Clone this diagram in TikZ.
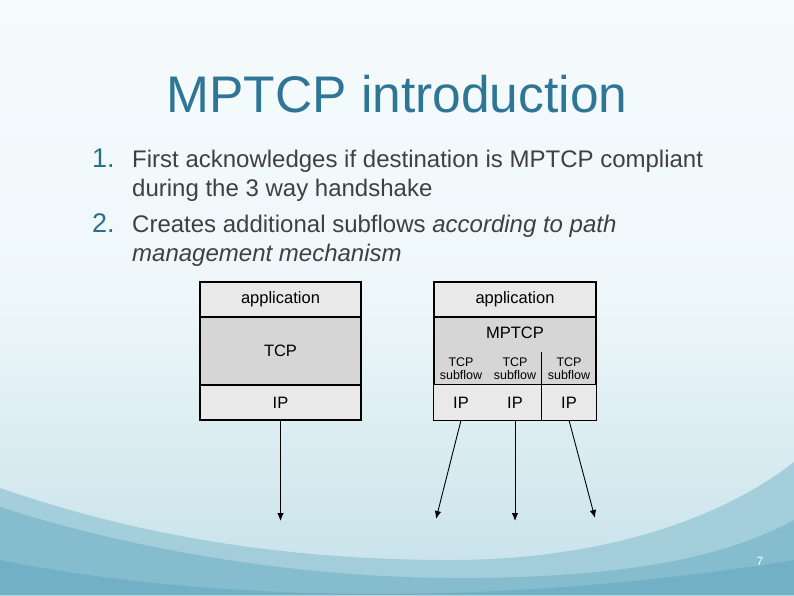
\documentclass[tikz,border=0pt]{standalone}
\usepackage{fontspec}
\setmainfont{Liberation Sans}
\usetikzlibrary{arrows.meta}
\definecolor{titleblue}{HTML}{2F7696}
\definecolor{numblue}{HTML}{2E6E86}
\definecolor{bodygray}{HTML}{404040}
\definecolor{lightcell}{HTML}{E9E9E9}
\definecolor{darkcell}{HTML}{D6D6D6}
\definecolor{skytop}{HTML}{F6FBFD}
\definecolor{skymid}{HTML}{EEF7FA}
\definecolor{skylow}{HTML}{C6E1E9}
\definecolor{wavelight}{HTML}{9CCAD8}
\definecolor{wavemid}{HTML}{80BBCC}
\definecolor{wavedark}{HTML}{6AADC2}

\begin{document}
\begin{tikzpicture}[x=1pt,y=-1pt]
        \tikzset{layer/.style={draw,rectangle,inner sep=0pt,minimum width=161pt,line width=1.1pt,font=\fontsize{16.5}{16.5}\selectfont},
            cell/.style={rectangle,inner sep=0pt,minimum width=54pt,font=\fontsize{16.5}{16.5}\selectfont},
            subcell/.style={cell,minimum height=33pt,align=center,font=\fontsize{12.5}{12.5}\selectfont},
            item/.style={anchor=base west,inner sep=0pt,align=left,text=bodygray,font=\fontsize{24}{29}\selectfont},
            itemnum/.style={anchor=base west,inner sep=0pt,text=numblue,font=\fontsize{27}{27}\selectfont},
            flow/.style={-{Latex[length=8pt,width=6.5pt]},line width=0.9pt}}
        \useasboundingbox (0,0) rectangle (794,595);
        \shade[top color=skytop,bottom color=skylow,middle color=skymid] (0,0) rectangle (794,595);
        \fill[wavelight,opacity=0.85] (0,488) .. controls (150,540) and (300,560) .. (450,560)
            .. controls (600,560) and (720,520) .. (794,462) -- (794,595) -- (0,595) -- cycle;
        \fill[wavemid,opacity=0.85] (0,507) .. controls (150,555) and (320,580) .. (480,578)
            .. controls (620,576) and (720,560) .. (794,520) -- (794,595) -- (0,595) -- cycle;
        \fill[wavedark,opacity=0.7] (0,560) .. controls (250,610) and (550,600) .. (794,560) -- (794,595) -- (0,595) -- cycle;
        \node[text=titleblue,font=\fontsize{51.5}{51.5}\selectfont,anchor=base] (title) at (397,112) {MPTCP introduction};
        \node[itemnum] (n1) at (92,167) {1.};
        \node[item] (t1) at (132,196) {First acknowledges if destination is MPTCP compliant\\during the 3 way handshake};
        \node[itemnum] (n2) at (92,232) {2.};
        \node[item] (t2) at (132,261) {Creates additional subflows \textit{according to path}\\\textit{management mechanism}};
        \node[layer,fill=lightcell,minimum height=35pt] (lapp) at (280.5,299.5) {application};
        \node[layer,fill=darkcell,minimum height=68pt] (ltcp) at (280.5,351) {TCP};
        \node[layer,fill=lightcell,minimum height=35pt] (lip) at (280.5,402.5) {IP};
        \node[layer,fill=lightcell,minimum height=35pt,minimum width=162pt] (rapp) at (515,299.5) {application};
        \node[layer,fill=darkcell,minimum height=68pt,minimum width=162pt] (rmid) at (515,351) {};
        \node[cell] (mptcp) at (515,333) {MPTCP};
        \foreach \x/\n in {461/a,515/b,569/c}
        {
            \node[subcell] (sub\n) at (\x,368.5) {TCP\\subflow};
            \node[cell,fill=lightcell,minimum height=35pt] (ip\n) at (\x,402.5) {IP};
        }
        \draw[line width=1.1pt] (ipa.north west) rectangle (ipc.south east);
        \draw[line width=1.1pt] (subc.north west) -- (ipc.south west);
        \coordinate (lend) at (280.5,521);
        \coordinate (enda) at (436,519);
        \coordinate (endb) at (515,521);
        \coordinate (endc) at (595,518);
        \draw[flow] (lip.south) -- (lend);
        \draw[flow] (ipa.south) -- (enda);
        \draw[flow] (ipb.south) -- (endb);
        \draw[flow] (ipc.south) -- (endc);
        \node[text=skytop,font=\fontsize{12}{12}\selectfont] (page) at (760,561) {7};
\end{tikzpicture}
\end{document}
